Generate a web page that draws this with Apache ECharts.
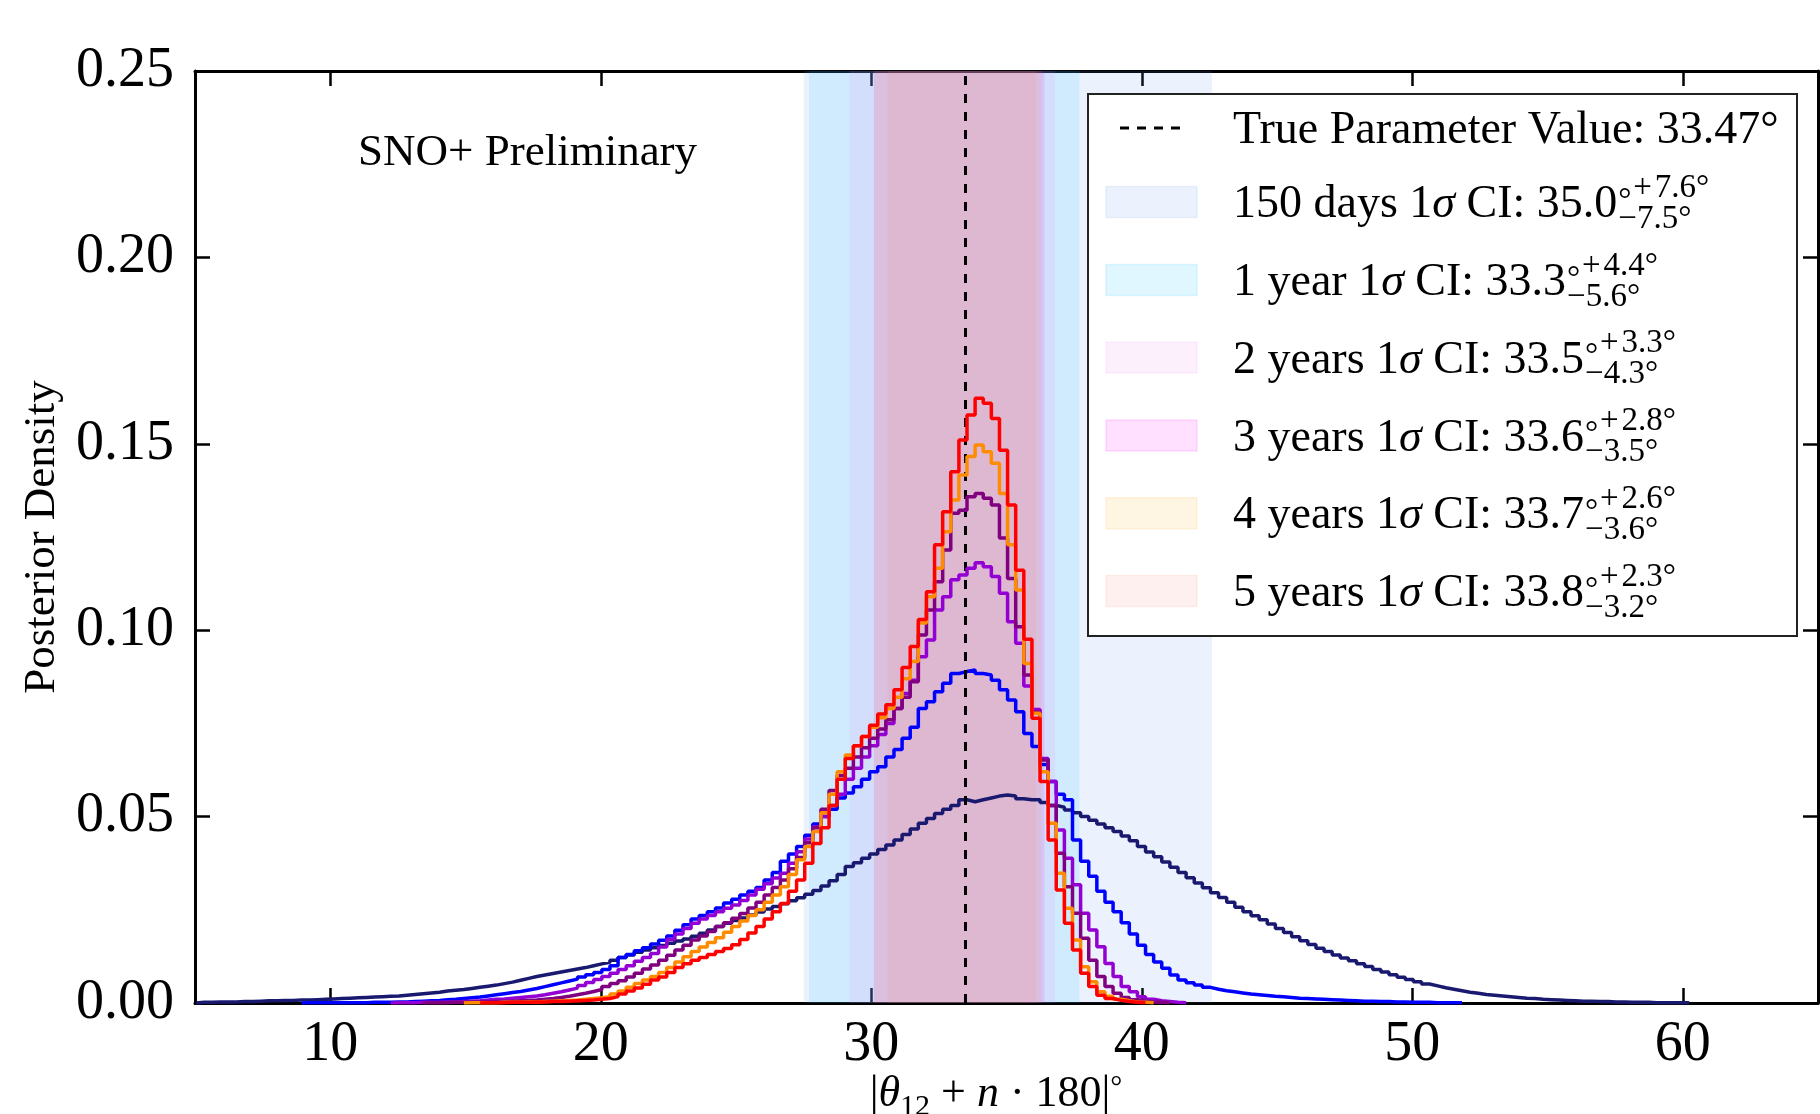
<!DOCTYPE html>
<html><head><meta charset="utf-8">
<script src="https://cdn.jsdelivr.net/npm/echarts@6/dist/echarts.min.js"></script>
<style>html,body{margin:0;padding:0;background:#fff}#c{width:1820px;height:1114px}</style>
</head><body><div id="c"></div>
<script>
// ---------------- DATA ----------------
const binWidth = 0.3;
const xTickValues = [10, 20, 30, 40, 50, 60];
const yTickValues = [0, 0.05, 0.10, 0.15, 0.20, 0.25];
const trueValue = 33.47;
const ciLabels = ['150 days', '1 year', '2 years', '3 years', '4 years', '5 years'];
const ciCenter = [35.0, 33.3, 33.5, 33.6, 33.7, 33.8];
const ciPlus = [7.6, 4.4, 3.3, 2.8, 2.6, 2.3];
const ciMinus = [7.5, 5.6, 4.3, 3.5, 3.6, 3.2];

// 150 days (left edge of first bin = 5.04)
const navyStart = 5.04;
const navyVals = [
0.0002,0.0002,0.0003,0.0003,0.0003,0.0004,0.0004,0.0005,0.0006,0.0006,
0.0007,0.0007,0.0008,0.0008,0.0009,0.0010,0.0011,0.0012,0.0013,0.0014,
0.0015,0.0016,0.0017,0.0018,0.0019,0.0021,0.0023,0.0025,0.0027,0.0029,
0.0032,0.0034,0.0036,0.0039,0.0042,0.0045,0.0048,0.0052,0.0056,0.0061,
0.0066,0.0071,0.0075,0.0079,0.0083,0.0087,0.0091,0.0095,0.0100,0.0105,
0.0109,0.0115,0.0122,0.0129,0.0136,0.0142,0.0148,0.0154,0.0160,0.0166,
0.0172,0.0179,0.0187,0.0196,0.0205,0.0214,0.0221,0.0228,0.0236,0.0244,
0.0252,0.0259,0.0266,0.0274,0.0282,0.0292,0.0302,0.0314,0.0328,0.0345,
0.0366,0.0376,0.0388,0.0400,0.0412,0.0424,0.0437,0.0452,0.0467,0.0482,
0.0495,0.0508,0.0520,0.0530,0.0545,0.0540,0.0545,0.0550,0.0555,0.0558,
0.0555,0.0548,0.0545,0.0545,0.0538,0.0530,0.0525,0.0518,0.0510,0.0500,
0.0490,0.0480,0.0470,0.0460,0.0448,0.0435,0.0420,0.0405,0.0392,0.0378,
0.0364,0.0350,0.0336,0.0322,0.0309,0.0296,0.0283,0.0270,0.0257,0.0245,
0.0234,0.0223,0.0212,0.0200,0.0189,0.0178,0.0167,0.0157,0.0147,0.0138,
0.0129,0.0121,0.0113,0.0105,0.0098,0.0090,0.0083,0.0076,0.0069,0.0063,
0.0057,0.0051,0.0046,0.0041,0.0037,0.0033,0.0029,0.0026,0.0023,0.0021,
0.0019,0.0017,0.0015,0.0013,0.0012,0.0010,0.0009,0.0008,0.0007,0.0006,
0.0005,0.0005,0.0004,0.0004,0.0003,0.0003,0.0002,0.0002,0.0002,0.0001,
0.0001,0.0001,0.0001,0.0001];

// 1 year
const blueStart = 8.94;
const blueVals = [
0.0001,0.0001,0.0001,0.0001,0.0001,0.0001,0.0001,
0.0001,0.0002,0.0002,0.0002,0.0003,0.0003,0.0004,0.0005,0.0006,0.0007,
0.0009,0.0010,0.0012,0.0014,0.0016,0.0019,0.0022,0.0025,0.0028,0.0031,
0.0035,0.0039,0.0044,0.0049,0.0054,0.0059,0.0064,0.0070,0.0076,0.0082,
0.0090,0.0100,0.0122,0.0130,0.0140,0.0148,0.0158,0.0168,0.0180,0.0195,
0.0210,0.0225,0.0235,0.0245,0.0255,0.0268,0.0278,0.0290,0.0300,0.0310,
0.0330,0.0350,0.0380,0.0400,0.0420,0.0450,0.0480,0.0500,0.0520,0.0550,
0.0563,0.0580,0.0600,0.0620,0.0634,0.0660,0.0680,0.0710,0.0740,0.0790,
0.0808,0.0835,0.0858,0.0884,0.0889,0.0893,0.0884,0.0880,0.0866,0.0840,
0.0813,0.0781,0.0723,0.0688,0.0640,0.0594,0.0560,0.0545,0.0437,0.0380,
0.0340,0.0300,0.0270,0.0245,0.0215,0.0185,0.0155,0.0130,0.0110,0.0093,
0.0075,0.0062,0.0054,0.0048,0.0042,0.0037,0.0033,0.0030,0.0027,0.0024,
0.0022,0.0020,0.0018,0.0017,0.0015,0.0013,0.0012,0.0011,0.0010,0.0009,
0.0008,0.0007,0.0006,0.0005,0.0005,0.0004,0.0004,0.0003,0.0003,0.0002,
0.0002,0.0002,0.0001,0.0001,0.0001,0.0001];

// 2 years
const violetStart = 12.24;
const violetVals = [
0.0001,0.0001,0.0001,0.0002,0.0002,0.0002,
0.0003,0.0003,0.0004,0.0005,0.0006,0.0008,0.0010,0.0011,0.0013,0.0015,
0.0017,0.0019,0.0022,0.0026,0.0030,0.0035,0.0040,0.0047,0.0055,0.0063,
0.0071,0.0080,0.0090,0.0100,0.0112,0.0122,0.0133,0.0150,0.0170,0.0185,
0.0200,0.0214,0.0225,0.0235,0.0245,0.0254,0.0263,0.0275,0.0290,0.0305,
0.0320,0.0335,0.0348,0.0375,0.0406,0.0440,0.0473,0.0500,0.0530,0.0560,
0.0600,0.0630,0.0660,0.0690,0.0720,0.0750,0.0790,0.0830,0.0866,0.0929,
0.0974,0.1054,0.1090,0.1135,0.1148,0.1166,0.1181,0.1170,0.1144,0.1099,
0.1023,0.0965,0.0850,0.0787,0.0656,0.0594,0.0464,0.0388,0.0317,0.0241,
0.0196,0.0151,0.0106,0.0071,0.0044,0.0030,0.0017,0.0010,0.0006,0.0004,
0.0002,0.0001];

// 3 years
const purpleStart = 13.44;
const purpleVals = [
0.0001,0.0001,
0.0001,0.0002,0.0002,0.0002,0.0003,0.0003,0.0004,0.0004,0.0005,0.0006,
0.0007,0.0008,0.0010,0.0012,0.0015,0.0018,0.0022,0.0026,0.0031,0.0036,
0.0044,0.0052,0.0060,0.0070,0.0080,0.0091,0.0102,0.0115,0.0128,0.0142,
0.0155,0.0169,0.0180,0.0192,0.0205,0.0215,0.0227,0.0240,0.0255,0.0270,
0.0290,0.0310,0.0330,0.0360,0.0390,0.0430,0.0470,0.0520,0.0570,0.0610,
0.0630,0.0660,0.0685,0.0710,0.0735,0.0760,0.0790,0.0820,0.0862,0.0987,
0.1054,0.1130,0.1215,0.1314,0.1322,0.1358,0.1367,0.1354,0.1336,0.1247,
0.1139,0.1009,0.0880,0.0780,0.0652,0.0530,0.0402,0.0312,0.0241,0.0174,
0.0115,0.0071,0.0044,0.0026,0.0015,0.0009,0.0005,0.0003,0.0002,0.0001];

// 4 years
const orangeStart = 14.94;
const orangeVals = [
0.0001,0.0001,0.0001,0.0001,0.0002,0.0002,0.0002,
0.0003,0.0003,0.0004,0.0005,0.0006,0.0007,0.0008,0.0010,0.0012,0.0014,
0.0017,0.0024,0.0032,0.0042,0.0052,0.0062,0.0071,0.0082,0.0095,0.0110,
0.0124,0.0138,0.0150,0.0162,0.0175,0.0190,0.0205,0.0220,0.0235,0.0250,
0.0270,0.0290,0.0312,0.0345,0.0384,0.0420,0.0460,0.0510,0.0560,0.0620,
0.0665,0.0690,0.0715,0.0740,0.0765,0.0790,0.0820,0.0870,0.0916,0.1019,
0.1090,0.1166,0.1264,0.1349,0.1416,0.1466,0.1497,0.1479,0.1448,0.1367,
0.1229,0.1108,0.0911,0.0777,0.0620,0.0482,0.0348,0.0254,0.0169,0.0097,
0.0057,0.0030,0.0018,0.0010,0.0006,0.0003,0.0002,0.0001];

// 5 years
const redStart = 15.54;
const redVals = [
0.0001,0.0001,0.0001,0.0002,0.0002,
0.0002,0.0003,0.0003,0.0004,0.0004,0.0005,0.0006,0.0007,0.0008,0.0010,
0.0012,0.0017,0.0024,0.0032,0.0040,0.0050,0.0062,0.0070,0.0082,0.0095,
0.0105,0.0115,0.0122,0.0130,0.0138,0.0146,0.0156,0.0170,0.0188,0.0205,
0.0225,0.0245,0.0267,0.0300,0.0330,0.0375,0.0428,0.0470,0.0530,0.0600,
0.0656,0.0690,0.0715,0.0745,0.0775,0.0800,0.0840,0.0900,0.0956,0.1029,
0.1103,0.1229,0.1318,0.1425,0.1510,0.1577,0.1622,0.1609,0.1568,0.1483,
0.1336,0.1161,0.0976,0.0764,0.0594,0.0437,0.0303,0.0214,0.0142,0.0080,
0.0044,0.0021,0.0012,0.0007,0.0004,0.0002,0.0001];

const lineColors = ['#191970', '#0000ff', '#9400d3', '#800080', '#ff8c00', '#ff0000'];
const bandColors = ['rgba(100,149,237,0.12)', 'rgba(0,191,255,0.12)', 'rgba(238,130,238,0.12)',
                    'rgba(255,0,255,0.12)', 'rgba(255,165,0,0.11)', 'rgba(250,128,114,0.12)'];

// ---------------- CHART ----------------
const FONT = 'Liberation Serif';
const histograms = [
  [navyStart, navyVals], [blueStart, blueVals], [violetStart, violetVals],
  [purpleStart, purpleVals], [orangeStart, orangeVals], [redStart, redVals]
];
function stepPoints(start, vals) {
  const pts = [[start, 0]];
  vals.forEach((v, k) => pts.push([+(start + k * binWidth).toFixed(4), v]));
  pts.push([+(start + vals.length * binWidth).toFixed(4), 0]);
  return pts;
}

const chart = echarts.init(document.getElementById('c'), null, {renderer: 'canvas'});
const spine = {show: true, onZero: false, lineStyle: {color: '#000', width: 3}};
const tickStyle = {color: '#000', width: 2.5};
const labelStyle = {fontFamily: FONT, fontSize: 56, color: '#000'};

const series = [];
series.push({
  type: 'line', data: [[trueValue, -1]], symbol: 'none', lineStyle: {opacity: 0}, z: 1, silent: true,
  markArea: {
    silent: true,
    data: ciCenter.map((c, k) => [
      {xAxis: +(c - ciMinus[k]).toFixed(2), itemStyle: {color: bandColors[k]}},
      {xAxis: +(c + ciPlus[k]).toFixed(2)}
    ])
  }
});
histograms.forEach((h, k) => {
  series.push({
    type: 'line', step: 'end', data: stepPoints(h[0], h[1]), symbol: 'none', showSymbol: false,
    lineStyle: {width: 3.5, color: lineColors[k]}, itemStyle: {color: lineColors[k]},
    z: 3 + k, silent: true, clip: true
  });
});
series.push({
  type: 'line', data: [[trueValue, -1]], symbol: 'none', lineStyle: {opacity: 0}, z: 20, silent: true,
  markLine: {
    silent: true, symbol: ['none', 'none'], label: {show: false},
    lineStyle: {color: '#000', width: 3, type: [9, 9]},
    data: [{xAxis: trueValue}]
  }
});

// --------- text helpers (legend, annotations, axis titles) ---------
const cnv = document.createElement('canvas').getContext('2d');
function measure(t, size, italic) {
  cnv.font = (italic ? 'italic ' : '') + size + 'px "' + FONT + '"';
  return cnv.measureText(t).width;
}
function txt(t, x, y, size, italic, extra) {
  return Object.assign({
    type: 'text', x: x, y: y, z: 100, silent: true,
    style: {text: t, fontFamily: FONT, fontSize: size, fontStyle: italic ? 'italic' : 'normal',
            fill: '#000', align: 'left', verticalAlign: 'middle'}
  }, extra || {});
}
function run(pieces, x0, yMid) {
  const out = [];
  let x = x0;
  pieces.forEach(p => {
    out.push(txt(p[0], x, yMid + (p[3] || 0), p[1], p[2]));
    x += measure(p[0], p[1], p[2]);
  });
  return {els: out, end: x};
}

const graphic = [];
graphic.push(txt('SNO+ Preliminary', 358, 153, 45, false));
graphic.push({
  type: 'text', x: 42, y: 537, rotation: Math.PI / 2, z: 100, silent: true,
  style: {text: 'Posterior Density', fontFamily: FONT, fontSize: 45, fill: '#000', align: 'center', verticalAlign: 'middle'}
});
(function () {
  const pieces = [['|', 44, false], ['θ', 44, true], ['12', 30, false, 13], [' + ', 44, false],
                  ['n', 44, true], [' · 180|', 44, false], ['°', 30, false, -6]];
  let w = 0; pieces.forEach(p => w += measure(p[0], p[1], p[2]));
  const r = run(pieces, 996 - w / 2, 1094);
  r.els.forEach(e => graphic.push(e));
})();

// legend
const rowY = [128, 202, 280, 357.5, 435.5, 513.3, 591];
const TY = 3; // text vertical nudge
graphic.push({type: 'rect', z: 90, silent: true, shape: {x: 1088, y: 94, width: 709, height: 542},
  style: {fill: '#fff', stroke: '#222', lineWidth: 2}});
graphic.push({type: 'line', z: 100, silent: true, shape: {x1: 1120, y1: rowY[0], x2: 1181, y2: rowY[0]},
  style: {stroke: '#000', lineWidth: 3, lineDash: [9, 8]}});
graphic.push(txt('True Parameter Value: ' + trueValue.toFixed(2) + '°', 1233, rowY[0] + TY, 46, false));
ciLabels.forEach((lab, k) => {
  const y = rowY[k + 1];
  graphic.push({type: 'rect', z: 95, silent: true, shape: {x: 1106, y: y - 15.5, width: 91, height: 31},
    style: {fill: bandColors[k], stroke: bandColors[k], lineWidth: 1.5}});
  const r = run([[lab + ' 1', 46, false], ['σ', 46, true], [' CI: ' + ciCenter[k].toFixed(1), 46, false]], 1233, y + TY);
  r.els.forEach(e => graphic.push(e));
  graphic.push(txt('°', r.end + 1, y + TY - 4, 33, false));
  graphic.push(txt('+\u200A' + ciPlus[k].toFixed(1) + '°', r.end + 16, y + TY - 17, 33, false));
  graphic.push(txt('\u2212' + ciMinus[k].toFixed(1) + '°', r.end + 1, y + TY + 14, 33, false));
});

const option = {
  animation: false,
  backgroundColor: '#fff',
  grid: {left: 195, right: 2, top: 71, bottom: 111, containLabel: false},
  xAxis: [
    {type: 'value', min: 5, max: 65, position: 'bottom', axisLine: spine,
     axisTick: {show: true, inside: true, length: 15, lineStyle: tickStyle, customValues: xTickValues},
     axisLabel: Object.assign({show: true, margin: 14, customValues: xTickValues}, labelStyle),
     splitLine: {show: false}},
    {type: 'value', min: 5, max: 65, position: 'top', axisLine: spine,
     axisTick: {show: true, inside: true, length: 15, lineStyle: tickStyle, customValues: xTickValues},
     axisLabel: {show: false}, splitLine: {show: false}}
  ],
  yAxis: [
    {type: 'value', min: 0, max: 0.25, interval: 0.05, position: 'left', axisLine: spine,
     axisTick: {show: true, inside: true, length: 15, lineStyle: tickStyle},
     axisLabel: Object.assign({show: true, margin: 21, showMinLabel: true, showMaxLabel: true,
       formatter: v => v.toFixed(2)}, labelStyle),
     splitLine: {show: false}},
    {type: 'value', min: 0, max: 0.25, interval: 0.05, position: 'right', axisLine: spine,
     axisTick: {show: true, inside: true, length: 15, lineStyle: tickStyle},
     axisLabel: {show: false}, splitLine: {show: false}}
  ],
  series: series,
  graphic: graphic
};
chart.setOption(option);
</script>
</body></html>
